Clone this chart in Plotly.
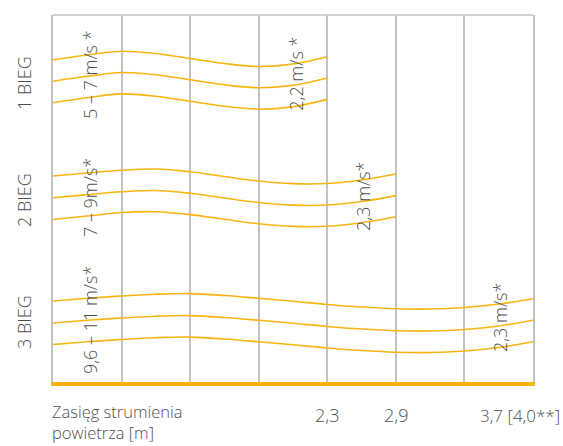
import plotly.graph_objects as go

# ---- data (column units on x, vertical position units on y; axis reversed) ----
x_bieg1 = [0, 0.5, 1, 1.5, 2, 2.5, 3, 3.5, 4]
bieg1_a = [60, 55, 51.2, 53.5, 58.5, 63.5, 66.5, 64, 56.7]
bieg1_b = [81.3, 76.3, 72.5, 74.8, 79.8, 84.8, 87.8, 85.3, 78]
bieg1_c = [102.7, 97.7, 93.9, 96.2, 101.2, 106.2, 109.2, 106.7, 99.4]

x_bieg2 = [0, 0.5, 1, 1.5, 2, 2.5, 3, 3.5, 4, 4.5, 5]
bieg2_a = [176, 173, 170.3, 169, 171.8, 176.5, 181, 183.6, 183.5, 180, 174]
bieg2_b = [197.8, 194.6, 191.8, 190.5, 193.3, 198, 202.5, 205.1, 205, 201.5, 195.6]
bieg2_c = [219.5, 216, 212.5, 211.8, 214.6, 219.3, 223.8, 226.4, 226.3, 222.8, 216.8]

x_bieg3 = [0, 0.5, 1, 1.5, 2, 2.5, 3, 3.5, 4, 4.5, 5, 5.5, 6, 6.5, 7]
bieg3_a = [301, 298.3, 296, 294.2, 293.6, 295.5, 298.3, 301.3, 304.5, 307, 308.7, 309, 307.5, 304, 298.7]
bieg3_b = [323, 320.3, 318, 316.2, 315.6, 317.5, 320.3, 323.3, 326.5, 329, 330.7, 331, 329.5, 326, 320.2]
bieg3_c = [344.5, 341.8, 339.5, 337.7, 337.1, 339, 341.8, 344.8, 348, 350.5, 352.2, 352.5, 351, 347.5, 341.7]

gear_labels = ["1 BIEG", "2 BIEG", "3 BIEG"]
gear_label_y = [83, 200, 322]
speed_labels = ["5 – 7 m/s *", "7 – 9m/s*", "9,6 – 11 m/s*"]
speed_label_y = [75, 198, 320]
end_labels = ["2,2 m/s *", "2,3 m/s*", "2,3 m/s*"]
end_label_x = [3.54, 4.52, 6.52]
end_label_y = [74, 196, 318]
range_ticks_x = [4, 5]
range_ticks = ["2,3", "2,9"]
last_tick = "3,7 [4,0**]"
axis_title = "Zasięg strumienia<br>powietrza [m]"

ORANGE = "#f8b50f"
GRID = "#c2c2c2"
TEXT = "#505050"
FONT = "Open Sans"
FS = 18

fig = go.Figure()
for xs, ys in [(x_bieg1, bieg1_a), (x_bieg1, bieg1_b), (x_bieg1, bieg1_c),
               (x_bieg2, bieg2_a), (x_bieg2, bieg2_b), (x_bieg2, bieg2_c),
               (x_bieg3, bieg3_a), (x_bieg3, bieg3_b), (x_bieg3, bieg3_c)]:
    fig.add_trace(go.Scatter(x=xs, y=ys, mode="lines",
                             line=dict(color=ORANGE, width=1.6, shape="spline", smoothing=1.0),
                             hoverinfo="skip", showlegend=False))

txtfont = dict(size=FS, color=TEXT, family=FONT, weight=300)
ann = []
for t, y in zip(gear_labels, gear_label_y):
    ann.append(dict(text=t, xref="paper", yref="y", x=(24 - 53) / 480, y=y,
                    xanchor="center", yanchor="middle",
                    textangle=-90, showarrow=False, font=txtfont))
for t, y in zip(speed_labels, speed_label_y):
    ann.append(dict(text=t, xref="x", yref="y", x=0.54, y=y,
                    xanchor="center", yanchor="middle",
                    textangle=-90, showarrow=False, font=txtfont))
for t, x, y in zip(end_labels, end_label_x, end_label_y):
    ann.append(dict(text=t, xref="x", yref="y", x=x, y=y,
                    xanchor="center", yanchor="middle",
                    textangle=-90, showarrow=False, font=txtfont))
for t, x in zip(range_ticks, range_ticks_x):
    ann.append(dict(text=t, xref="x", yref="paper", x=x, y=(382 - 415) / 367,
                    xanchor="center", yanchor="middle", showarrow=False, font=txtfont))
ann.append(dict(text=last_tick, xref="paper", yref="paper", x=(562 - 53) / 480,
                y=(382 - 415) / 367, xanchor="right", yanchor="middle", showarrow=False,
                font=dict(size=17, color=TEXT, family=FONT, weight=300)))
ann.append(dict(text=axis_title, xref="paper", yref="paper", x=-0.004,
                y=(382 - 422) / 367,
                xanchor="left", yanchor="middle", align="left", showarrow=False,
                borderpad=0,
                font=dict(size=16.5, color=TEXT, family=FONT, weight=300)))

fig.update_layout(
    width=563, height=446,
    margin=dict(l=53, r=30, t=15, b=64),
    paper_bgcolor="white", plot_bgcolor="white",
    font=dict(family=FONT, color=TEXT),
    xaxis=dict(range=[0, 7], tickvals=[0, 1, 2, 3, 4, 5, 6, 7], showticklabels=False,
               showgrid=True, gridcolor=GRID, gridwidth=1.6, zeroline=False,
               showline=True, linecolor=ORANGE, linewidth=3.5, ticks=""),
    yaxis=dict(range=[382, 15], showticklabels=False, showgrid=False, zeroline=False,
               showline=True, linecolor=GRID, linewidth=1.6, mirror=True, ticks=""),
    annotations=ann,
    shapes=[dict(type="line", xref="paper", yref="paper", x0=0, x1=1, y0=1, y1=1,
                 line=dict(color=GRID, width=1.6))],
)

fig.write_html("out.html", config={"displayModeBar": False},
               post_script="document.body.style.margin='0';document.body.style.overflow='hidden';")
